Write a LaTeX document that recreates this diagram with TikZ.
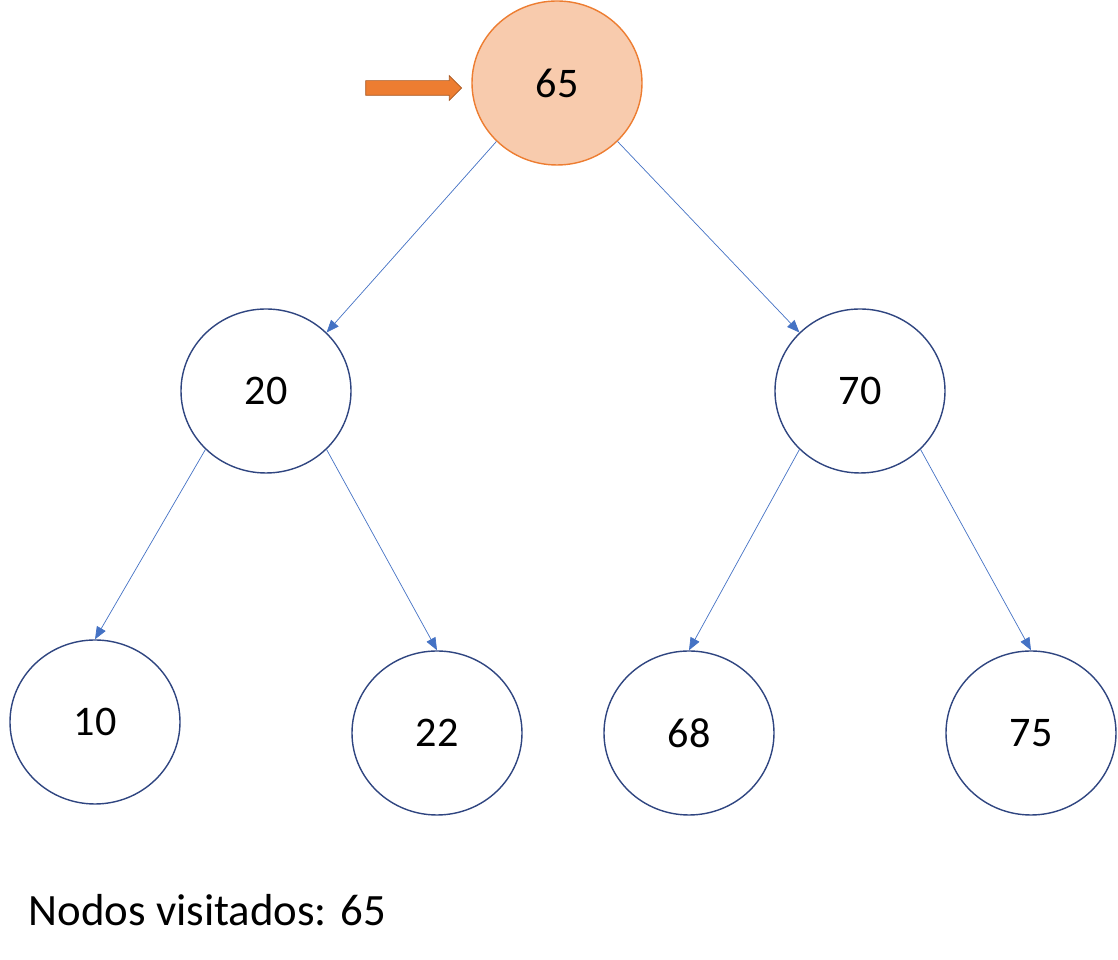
\documentclass[tikz,border=0pt]{standalone}
\usepackage{fontspec}
\setmainfont{Carlito}
\usetikzlibrary{arrows.meta,positioning,shapes.geometric,shapes.arrows}
\definecolor{nodeblue}{RGB}{47,69,128}
\definecolor{edgeblue}{RGB}{68,114,196}
\definecolor{visitfill}{RGB}{248,203,173}
\definecolor{visitline}{RGB}{237,125,49}
\tikzset{
    % Tree node
    treenode/.style={ellipse,draw=nodeblue,thick,minimum width=3.4cm,minimum height=3.28cm,font=\fontsize{24}{28}\selectfont},
    % Visited node
    visited/.style={treenode,draw=visitline,fill=visitfill},
    % Tree edge
    edge/.style={-{Triangle[length=2.5mm,width=2mm]},edgeblue},
    % Current pointer
    pointer/.style={single arrow,draw=visitline!70!black,fill=visitline,minimum height=1.92cm,inner xsep=0pt,inner ysep=0.14cm,single arrow head extend=0.1cm}
}
\begin{document}
\begin{tikzpicture}
    \useasboundingbox (0,0) rectangle (22.36,19.2);
    % Nodes
    \node[visited] (n65) at (11.14,17.54) {65};
    \node[treenode] (n20) at (5.32,11.38) {20};
    \node[treenode] (n70) at (17.2,11.38) {70};
    \node[treenode] (n10) at (1.9,4.76) {10};
    \node[treenode] (n22) at (8.74,4.54) {22};
    \node[treenode] (n68) at (13.78,4.54) {68};
    \node[treenode] (n75) at (20.62,4.54) {75};

    % Pointer
    \node[pointer] (cur) at (8.2,17.44) {};

    % Edges
    \draw[edge] (n65.224) -- (n20.44);
    \draw[edge] (n65.316) -- (n70.136);
    \draw[edge] (n20.224) -- (n10.north);
    \draw[edge] (n20.316) -- (n22.north);
    \draw[edge] (n70.224) -- (n68.north);
    \draw[edge] (n70.316) -- (n75.north);

    % Label
    \node[anchor=west,font=\fontsize{25.5}{30}\selectfont] (visits) at (0.45,1.0) {Nodos visitados: 65};
\end{tikzpicture}
\end{document}
